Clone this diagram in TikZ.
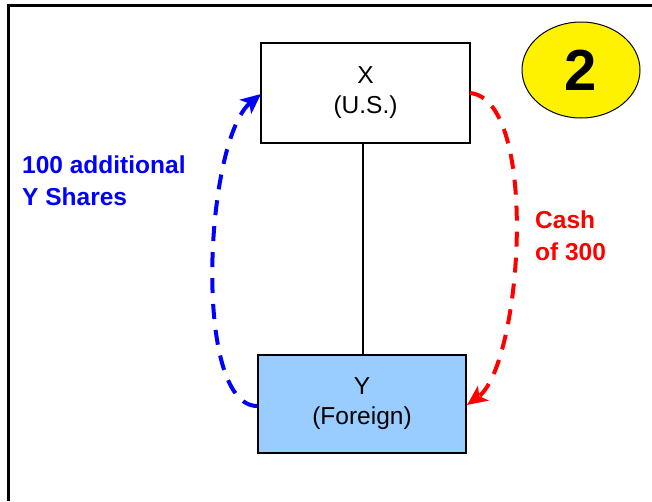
\documentclass[tikz,border=0pt]{standalone}
\usepackage{fontspec}
\setmainfont{Liberation Sans}
\usetikzlibrary{arrows.meta,shapes.geometric}
\definecolor{boxblue}{RGB}{153,204,255}
\begin{document}
\begin{tikzpicture}[x=1pt,y=-1pt,
  entity/.style={draw=black,line width=1.5pt,minimum width=209pt,minimum height=100pt,inner sep=0pt,align=center,font=\fontsize{24.5}{30}\selectfont},
  flow/.style={line width=4pt,dash pattern=on 15pt off 11pt,-{Stealth[length=20pt,width=18pt,inset=5pt]}},
  lbl/.style={anchor=west,align=left,inner sep=0pt,font=\fontsize{24.5}{32}\selectfont\bfseries}
]
\useasboundingbox (0,0) rectangle (652,501);
\draw[line width=3pt] (7,5.5) -- (652,5.5);
\draw[line width=3pt] (8.5,4) -- (8.5,501);
\node[entity] (x) at (365.5,93) {X\\(U.S.)};
\node[entity,fill=boxblue,minimum width=208pt,minimum height=98pt] (y) at (362,404) {Y\\(Foreign)};
\coordinate (top) at (363,143);
\coordinate (bot) at (363,355);
\draw[line width=1.5pt] (top) -- (bot);
\node[draw=black,line width=1pt,fill=yellow,ellipse,minimum width=118pt,minimum height=96pt,inner sep=0pt,font=\fontsize{58}{60}\selectfont\bfseries] (badge) at (581,70) {2};
\coordinate (bs) at (257,406);
\coordinate (be) at (261,94);
\draw[flow,blue] (bs) .. controls (192,405) and (205,140) .. (be);
\coordinate (rs) at (470,93);
\coordinate (re) at (467,405);
\draw[flow,red] (rs) .. controls (540,100) and (522,365) .. (re);
\node[lbl,text=blue] (bl) at (22,181) {100 additional\\Y Shares};
\node[lbl,text=red] (rl) at (535,236) {Cash\\of 300};
\end{tikzpicture}
\end{document}
